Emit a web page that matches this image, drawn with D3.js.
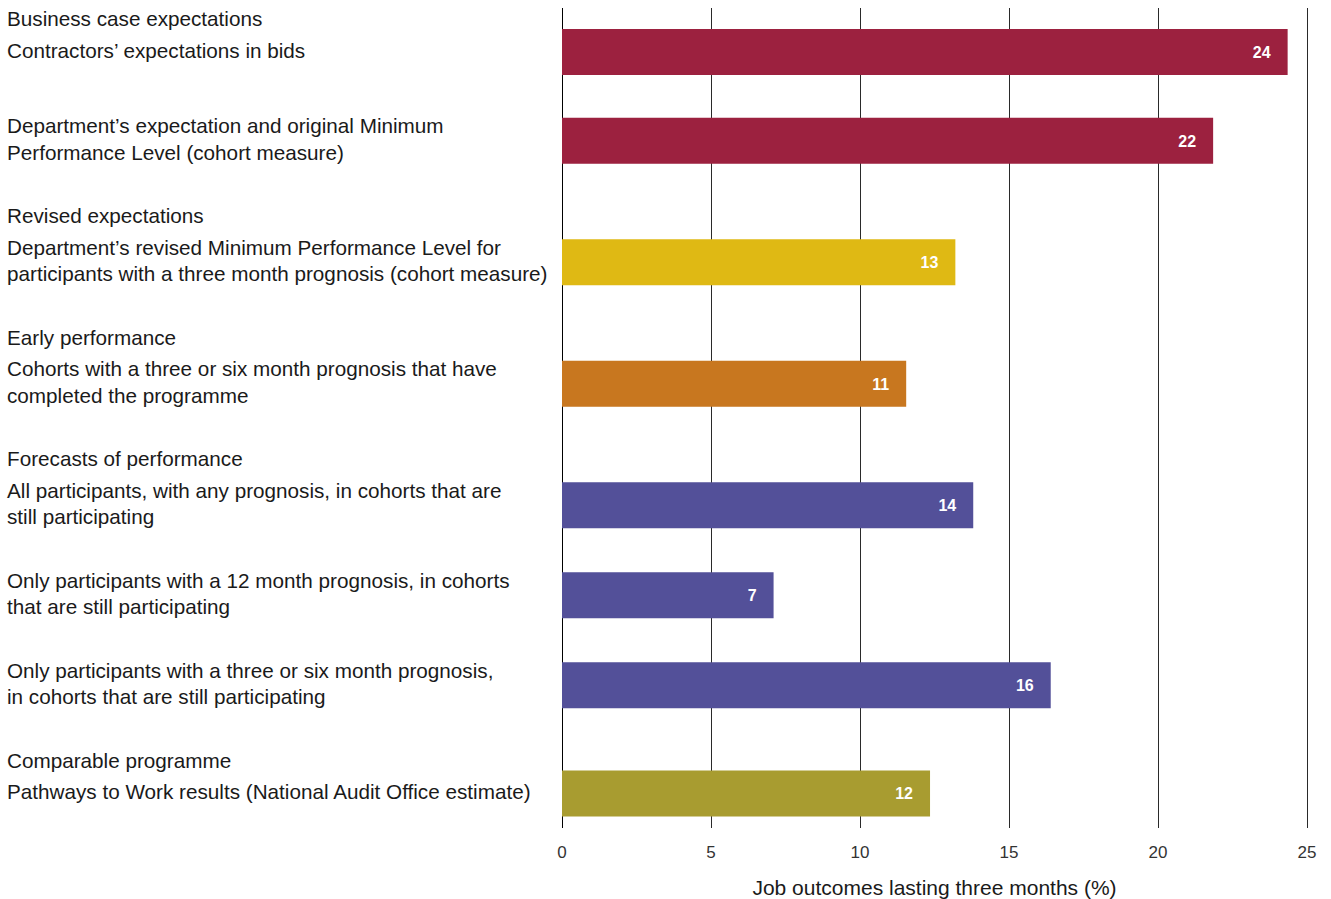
<!DOCTYPE html>
<html>
<head>
<meta charset="utf-8">
<script src="https://cdn.jsdelivr.net/npm/d3@7/dist/d3.min.js"></script>
<style>
  html, body { margin: 0; padding: 0; background: #fff; }
  svg { display: block; font-family: "Liberation Sans", Arial, sans-serif; }
</style>
</head>
<body>
<svg id="chart" width="1331" height="899"></svg>
<script>
// ---- Data ----
const groupHeaders = [
  "Business case expectations", null, "Revised expectations", "Early performance",
  "Forecasts of performance", null, null, "Comparable programme"
];
const descriptions = [
  ["Contractors’ expectations in bids"],
  ["Department’s expectation and original Minimum", "Performance Level (cohort measure)"],
  ["Department’s revised Minimum Performance Level for", "participants with a three month prognosis (cohort measure)"],
  ["Cohorts with a three or six month prognosis that have", "completed the programme"],
  ["All participants, with any prognosis, in cohorts that are", "still participating"],
  ["Only participants with a 12 month prognosis, in cohorts", "that are still participating"],
  ["Only participants with a three or six month prognosis,", "in cohorts that are still participating"],
  ["Pathways to Work results (National Audit Office estimate)"]
];
const values = [24.35, 21.85, 13.2, 11.55, 13.8, 7.1, 16.4, 12.35];
const valueLabels = ["24", "22", "13", "11", "14", "7", "16", "12"];
const groups = ["business", "business", "revised", "early", "forecast", "forecast", "forecast", "comparable"];
const xTicks = [0, 5, 10, 15, 20, 25];
const axisTitle = "Job outcomes lasting three months (%)";

// ---- Styles / layout ----
const colorScale = d3.scaleOrdinal()
  .domain(["business", "revised", "early", "forecast", "comparable"])
  .range(["#9c213f", "#dfb914", "#c8771f", "#535099", "#a89c30"]);

const svg = d3.select("#chart");
const x = d3.scaleLinear().domain([0, 25]).range([562, 1307]);
const gridTop = 8, gridBottom = 828;
const lineH = 26.5, headerGap = 31.5, blockGap = 63.5, singleExtra = 12;
const barH = 46;

// compute row layout
let cursor = 19;
const rows = values.map((v, i) => {
  const r = { value: v, label: valueLabels[i], group: groups[i], lines: descriptions[i], header: groupHeaders[i] };
  if (r.header) { r.headerY = cursor; cursor += headerGap; }
  r.lineYs = r.lines.map((l, k) => cursor + k * lineH);
  r.center = cursor + (r.lines.length - 1) * lineH / 2 + 1.5;
  cursor = r.lineYs[r.lineYs.length - 1] + blockGap + (r.lines.length === 1 ? singleExtra : 0);
  return r;
});

// gridlines
svg.append("g").selectAll("line").data(xTicks).join("line")
  .attr("x1", d => Math.round(x(d)) + 0.5).attr("x2", d => Math.round(x(d)) + 0.5)
  .attr("y1", gridTop).attr("y2", gridBottom)
  .attr("stroke", d => d === 0 ? "#000" : "#2a2a2a").attr("stroke-width", 1);

// bars
svg.append("g").selectAll("rect").data(rows).join("rect")
  .attr("x", x(0)).attr("y", d => d.center - barH / 2)
  .attr("width", d => x(d.value) - x(0)).attr("height", barH)
  .attr("fill", d => colorScale(d.group));

// value labels
svg.append("g").selectAll("text").data(rows).join("text")
  .attr("x", d => x(d.value) - 17).attr("y", d => d.center)
  .attr("dy", "0.36em").attr("text-anchor", "end")
  .attr("fill", "#fff").attr("font-weight", "bold").attr("font-size", 16)
  .text(d => d.label);

// category headers + descriptions
const lab = svg.append("g").attr("fill", "#1a1a1a").attr("font-size", 20.7);
rows.forEach(r => {
  if (r.header) {
    lab.append("text").attr("x", 7).attr("y", r.headerY).attr("dy", "0.35em").text(r.header);
  }
  r.lines.forEach((l, k) => {
    lab.append("text").attr("x", 7).attr("y", r.lineYs[k]).attr("dy", "0.35em").text(l);
  });
});

// x axis tick labels
svg.append("g").selectAll("text").data(xTicks).join("text")
  .attr("x", d => x(d)).attr("y", 852).attr("dy", "0.35em")
  .attr("text-anchor", "middle").attr("font-size", 17).attr("fill", "#333")
  .text(d => d);

svg.append("text").attr("x", (x(0) + x(25)) / 2).attr("y", 888).attr("dy", "0.35em")
  .attr("text-anchor", "middle").attr("font-size", 21).attr("fill", "#1a1a1a")
  .text(axisTitle);
</script>
</body>
</html>
